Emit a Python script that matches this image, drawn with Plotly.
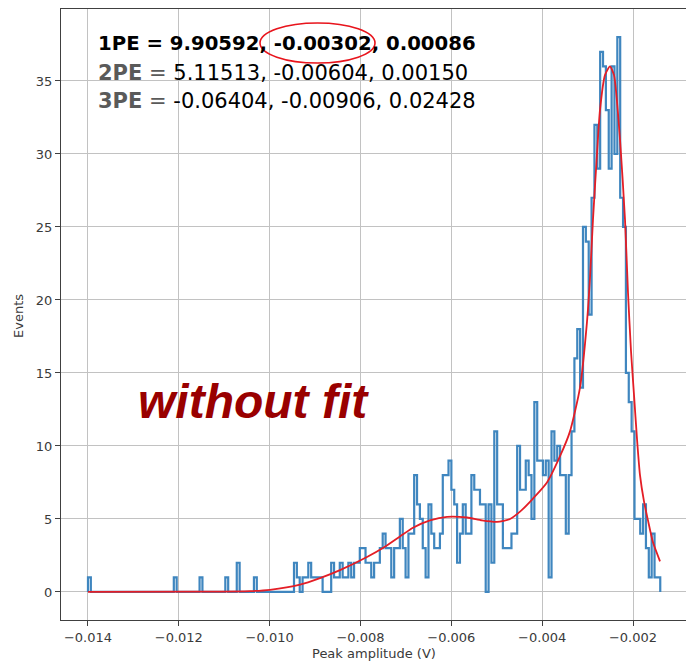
import numpy as np
import plotly.graph_objects as go

# Histogram of peak amplitudes (200 equal bins between the two limits)
BIN_LO, BIN_HI = -0.014, -0.0014
counts = [
    1, 0, 0, 0, 0, 0, 0, 0, 0, 0,
    0, 0, 0, 0, 0, 0, 0, 0, 0, 0,
    0, 0, 0, 0, 0, 0, 0, 0, 0, 0,
    1, 0, 0, 0, 0, 0, 0, 0, 0, 1,
    0, 0, 0, 0, 0, 0, 0, 0, 1, 0,
    0, 0, 2, 0, 0, 0, 0, 0, 1, 0,
    0, 0, 0, 0, 0, 0, 0, 0, 0, 0,
    0, 0, 2, 1, 0, 1, 1, 2, 1, 1,
    1, 1, 0, 0, 0, 2, 1, 1, 2, 1,
    1, 2, 1, 2, 2, 3, 3, 2, 2, 1,
    2, 2, 3, 4, 3, 3, 1, 3, 3, 5,
    3, 1, 4, 4, 8, 6, 5, 3, 1, 6,
    4, 3, 3, 4, 8, 8, 9, 7, 6, 2,
    4, 6, 4, 4, 8, 7, 7, 6, 6, 0,
    6, 2, 11, 6, 6, 3, 3, 3, 4, 4,
    10, 7, 7, 9, 8, 5, 13, 9, 9, 8,
    9, 1, 11, 9, 10, 8, 8, 4, 8, 11,
    16, 18, 14, 25, 24, 19, 27, 32, 29, 37,
    36, 33, 29, 36, 30, 38, 27, 25, 15, 13,
    11, 5, 5, 4, 6, 3, 1, 4, 1, 1,
]

# Fitted model curve (3 Gaussians), sampled points
fit_v = [
    -0.014000, -0.011534, -0.010433, -0.009993, -0.009332, -0.008892,
    -0.008451, -0.007857, -0.007461, -0.007130, -0.006844, -0.006470,
    -0.006095, -0.005655, -0.005325, -0.004994, -0.004708, -0.004488,
    -0.004202, -0.003894, -0.003607, -0.003387, -0.003167, -0.003013,
    -0.002947, -0.002881, -0.002793, -0.002727, -0.002617, -0.002507,
    -0.002418, -0.002286, -0.002176, -0.002110, -0.002044, -0.001978,
    -0.001912, -0.001846, -0.001758, -0.001670, -0.001560, -0.001405,
]
fit_counts = [
    0.0, 0.02, 0.06, 0.15, 0.5, 0.95,
    1.5, 2.4, 3.1, 3.8, 4.4, 4.9,
    5.15, 5.1, 4.9, 4.8, 5.0, 5.5,
    6.4, 7.5, 9.3, 11.0, 14.0, 18.5,
    21.5, 25.5, 30.0, 33.0, 35.4, 36.0,
    35.4, 31.0, 25.5, 20.5, 16.5, 13.5,
    10.5, 8.0, 6.2, 4.9, 3.4, 2.1,
]

x_tick_vals = [-0.014, -0.012, -0.010, -0.008, -0.006, -0.004, -0.002]
x_tick_text = ["\u22120.014", "\u22120.012", "\u22120.010", "\u22120.008",
               "\u22120.006", "\u22120.004", "\u22120.002"]
y_tick_vals = [0, 5, 10, 15, 20, 25, 30, 35]
y_tick_text = ["0", "5", "10", "15", "20", "25", "30", "35"]

fit_lines = [
    "<b>1PE = 9.90592, -0.00302, 0.00086</b>",
    "<span style='color:#5a5a5a'><b>2PE</b> =</span> 5.11513, -0.00604, 0.00150",
    "<span style='color:#5a5a5a'><b>3PE</b> =</span> -0.06404, -0.00906, 0.02428",
]

# step outline like a matplotlib 'step' histogram
edges = np.linspace(BIN_LO, BIN_HI, len(counts) + 1)
step_x = np.concatenate([[edges[0]], edges])
step_y = np.concatenate([[0], np.asarray(counts, dtype=float), [0]])

W, H = 686, 664
L, R, T, B = 61, 0, 9, 44
pw, ph = W - L - R, H - T - B


def px(xp):
    return (xp - L) / pw


def py(yp):
    return (H - B - yp) / ph


fig = go.Figure()
fig.add_trace(go.Scatter(
    x=step_x, y=step_y, mode="lines", line_shape="hv",
    line=dict(color="#3f86bf", width=2.2), showlegend=False, hoverinfo="skip",
))
fig.add_trace(go.Scatter(
    x=fit_v, y=fit_counts, mode="lines", line_shape="spline",
    line=dict(color="#e41e26", width=1.8, smoothing=0.6), showlegend=False,
))

tick_font = dict(family="DejaVu Sans", size=13, color="#3a3a3a")
fig.update_xaxes(
    range=[-0.014594, -0.000833], tickvals=x_tick_vals, ticktext=x_tick_text,
    showgrid=True, gridcolor="#c2c2c2", gridwidth=1.3, zeroline=False,
    showline=True, linecolor="#404040", linewidth=1.3, mirror=True,
    ticks="outside", ticklen=5, tickwidth=1.2, tickcolor="#404040",
    tickfont=tick_font,
)
fig.update_yaxes(
    range=[-1.92, 39.93], tickvals=y_tick_vals, ticktext=y_tick_text,
    showgrid=True, gridcolor="#c2c2c2", gridwidth=1.3, zeroline=False,
    showline=True, linecolor="#404040", linewidth=1.3,
    ticks="outside", ticklen=5, tickwidth=1.2, tickcolor="#404040",
    tickfont=tick_font,
)

annotations = [
    dict(text="Events", textangle=-90, x=px(18), y=py(316),
         font=dict(family="DejaVu Sans", size=13, color="#3a3a3a")),
    dict(text="Peak amplitude (V)", x=px(374), y=py(653),
         font=dict(family="DejaVu Sans", size=13, color="#3a3a3a")),
    dict(text=fit_lines[0], x=px(97.7), y=py(43.6), xanchor="left",
         font=dict(family="DejaVu Sans", size=19.7, color="black")),
    dict(text=fit_lines[1], x=px(97.7), y=py(72.6), xanchor="left",
         font=dict(family="DejaVu Sans", size=21, color="black")),
    dict(text=fit_lines[2], x=px(97.7), y=py(101), xanchor="left",
         font=dict(family="DejaVu Sans", size=21, color="black")),
    dict(text="<b><i>without fit</i></b>", x=px(138), y=py(401.4), xanchor="left",
         font=dict(family="Liberation Sans", size=48, color="#990000")),
]
for a in annotations:
    a.update(xref="paper", yref="paper", showarrow=False,
             borderpad=0, borderwidth=0)
    a.setdefault("xanchor", "center")
    a.setdefault("yanchor", "middle")

fig.update_layout(
    width=W, height=H,
    margin=dict(l=L, r=R, t=T, b=B, pad=0),
    paper_bgcolor="white", plot_bgcolor="white",
    annotations=annotations,
    shapes=[dict(type="circle", xref="paper", yref="paper",
                 x0=px(260), x1=px(375), y0=py(63), y1=py(23),
                 line=dict(color="#e8141c", width=1.6))],
)

fig.write_html("out.html")
